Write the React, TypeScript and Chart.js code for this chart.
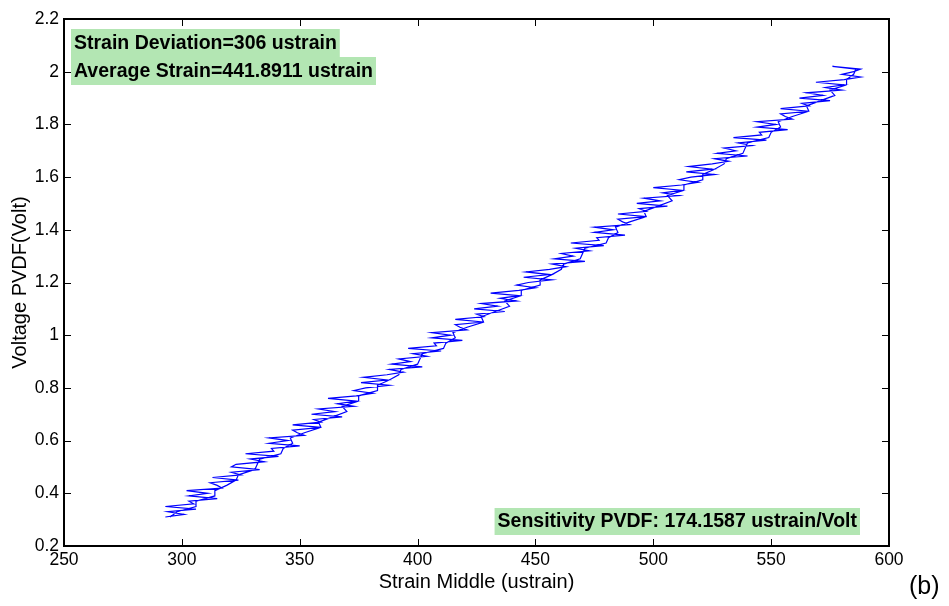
import { useEffect, useRef } from "react";
import { Chart, registerables } from "chart.js";

Chart.register(...registerables);

// ---- data ----
const xTickValues = [250, 300, 350, 400, 450, 500, 550, 600];
const yTickValues = [0.2, 0.4, 0.6, 0.8, 1.0, 1.2, 1.4, 1.6, 1.8, 2.0, 2.2];
const yTickLabels = ["0.2", "0.4", "0.6", "0.8", "1", "1.2", "1.4", "1.6", "1.8", "2", "2.2"];

// loading branch (strain in ustrain, voltage in Volt)
const strainUp = [
  293, 301, 294, 306, 293, 305, 303, 315, 303, 311,
  302, 317, 315, 312, 324, 313, 325, 321, 333, 321,
  323, 335, 329, 341, 327, 339, 338, 350, 337, 345,
  337, 352, 349, 347, 359, 347, 359, 356, 368, 355,
  365, 358, 373, 366, 374, 362, 374, 381, 373, 378,
  388, 376, 387, 377, 387, 394, 388, 402, 389, 397,
  392, 404, 398, 410, 396, 408, 407, 419, 406, 414,
  406, 421, 418, 416, 428, 416, 428, 425, 437, 424,
  434, 427, 442, 435, 443, 431, 443, 450, 442, 447,
  457, 445, 456, 446, 456, 463, 457, 471, 458, 466,
  461, 473, 467, 479, 465, 477, 476, 488, 475, 483,
  475, 490, 487, 485, 497, 485, 497, 494, 506, 493,
  503, 496, 511, 504, 512, 500, 512, 519, 511, 516,
  526, 514, 525, 515, 525, 532, 526, 540, 527, 535,
  530, 542, 536, 548, 534, 546, 545, 557, 544, 552,
  544, 559, 556, 554, 566, 554, 566, 563, 575, 562,
  572, 565, 580, 573, 581, 569, 581, 588, 580, 585,
  588, 576,
];
const voltageUp = [
  0.31, 0.32, 0.33, 0.34, 0.35, 0.36, 0.37, 0.38, 0.39, 0.40,
  0.41, 0.42, 0.43, 0.44, 0.45, 0.46, 0.47, 0.48, 0.49, 0.50,
  0.51, 0.52, 0.53, 0.54, 0.55, 0.56, 0.57, 0.58, 0.59, 0.60,
  0.61, 0.62, 0.63, 0.64, 0.65, 0.66, 0.67, 0.68, 0.69, 0.70,
  0.71, 0.72, 0.73, 0.74, 0.75, 0.76, 0.77, 0.78, 0.79, 0.80,
  0.81, 0.82, 0.83, 0.84, 0.85, 0.86, 0.87, 0.88, 0.89, 0.90,
  0.91, 0.92, 0.93, 0.94, 0.95, 0.96, 0.97, 0.98, 0.99, 1.00,
  1.01, 1.02, 1.03, 1.04, 1.05, 1.06, 1.07, 1.08, 1.09, 1.10,
  1.11, 1.12, 1.13, 1.14, 1.15, 1.16, 1.17, 1.18, 1.19, 1.20,
  1.21, 1.22, 1.23, 1.24, 1.25, 1.26, 1.27, 1.28, 1.29, 1.30,
  1.31, 1.32, 1.33, 1.34, 1.35, 1.36, 1.37, 1.38, 1.39, 1.40,
  1.41, 1.42, 1.43, 1.44, 1.45, 1.46, 1.47, 1.48, 1.49, 1.50,
  1.51, 1.52, 1.53, 1.54, 1.55, 1.56, 1.57, 1.58, 1.59, 1.60,
  1.61, 1.62, 1.63, 1.64, 1.65, 1.66, 1.67, 1.68, 1.69, 1.70,
  1.71, 1.72, 1.73, 1.74, 1.75, 1.76, 1.77, 1.78, 1.79, 1.80,
  1.81, 1.82, 1.83, 1.84, 1.85, 1.86, 1.87, 1.88, 1.89, 1.90,
  1.91, 1.92, 1.93, 1.94, 1.95, 1.96, 1.97, 1.98, 1.99, 2.00,
  2.01, 2.02,
];
// unloading branch
const strainDown = [
  586, 585, 582, 582, 575, 577, 571, 565, 566, 559,
  553, 554, 550, 549, 540, 539, 538, 531, 530, 526,
  521, 521, 513, 513, 506, 508, 502, 496, 497, 490,
  484, 485, 481, 480, 471, 470, 469, 462, 461, 457,
  452, 452, 444, 444, 437, 439, 433, 427, 428, 421,
  415, 416, 412, 411, 402, 401, 400, 393, 392, 388,
  383, 383, 375, 375, 368, 370, 364, 358, 359, 352,
  346, 347, 343, 342, 333, 332, 331, 324, 323, 319,
  314, 314, 306, 306, 298, 295,
];
const voltageDown = [
  2.01, 1.99, 1.97, 1.95, 1.93, 1.91, 1.89, 1.87, 1.85, 1.83,
  1.81, 1.79, 1.77, 1.75, 1.73, 1.71, 1.69, 1.67, 1.65, 1.63,
  1.61, 1.59, 1.57, 1.55, 1.53, 1.51, 1.49, 1.47, 1.45, 1.43,
  1.41, 1.39, 1.37, 1.35, 1.33, 1.31, 1.29, 1.27, 1.25, 1.23,
  1.21, 1.19, 1.17, 1.15, 1.13, 1.11, 1.09, 1.07, 1.05, 1.03,
  1.01, 0.99, 0.97, 0.95, 0.93, 0.91, 0.89, 0.87, 0.85, 0.83,
  0.81, 0.79, 0.77, 0.75, 0.73, 0.71, 0.69, 0.67, 0.65, 0.63,
  0.61, 0.59, 0.57, 0.55, 0.53, 0.51, 0.49, 0.47, 0.45, 0.43,
  0.41, 0.39, 0.37, 0.35, 0.33, 0.31,
];

const annotationTopLines = ["Strain Deviation=306 ustrain", "Average Strain=441.8911 ustrain"];
const annotationBottom = "Sensitivity PVDF: 174.1587 ustrain/Volt";
const panelLabel = "(b)";
const xTitle = "Strain Middle (ustrain)";
const yTitle = "Voltage PVDF(Volt)";

const FONT = "'Liberation Sans', Arial, Helvetica, sans-serif";
const GREEN = "rgb(179,230,179)";

const framePlugin = {
  id: "frame",
  afterDraw(chart: any) {
    const ctx = chart.ctx as CanvasRenderingContext2D;
    const { left, right, top, bottom } = chart.chartArea;
    const xs = chart.scales.x;
    const ys = chart.scales.y;
    ctx.save();
    ctx.strokeStyle = "#000";
    ctx.lineWidth = 1;
    const tl = 7;
    ctx.beginPath();
    for (const v of xTickValues) {
      const px = Math.round(xs.getPixelForValue(v)) + 0.5;
      ctx.moveTo(px, bottom);
      ctx.lineTo(px, bottom - tl);
      ctx.moveTo(px, top);
      ctx.lineTo(px, top + tl);
    }
    for (const v of yTickValues) {
      const py = Math.round(ys.getPixelForValue(v)) + 0.5;
      ctx.moveTo(left, py);
      ctx.lineTo(left + tl, py);
      ctx.moveTo(right, py);
      ctx.lineTo(right - tl, py);
    }
    ctx.stroke();
    ctx.lineWidth = 2;
    ctx.strokeRect(left, top, right - left, bottom - top);

    // annotations
    ctx.font = `bold 19.5px ${FONT}`;
    ctx.textBaseline = "middle";
    ctx.textAlign = "left";
    const bx = left + 7;
    let by = top + 10;
    for (const line of annotationTopLines) {
      const w = ctx.measureText(line).width;
      ctx.fillStyle = GREEN;
      ctx.fillRect(bx, by, w + 6, 28);
      ctx.fillStyle = "#000";
      ctx.fillText(line, bx + 3, by + 15);
      by += 28;
    }
    const w2 = ctx.measureText(annotationBottom).width;
    const rx = right - 29;
    const ry = bottom - 11 - 27;
    ctx.fillStyle = GREEN;
    ctx.fillRect(rx - w2 - 6, ry, w2 + 6, 27);
    ctx.fillStyle = "#000";
    ctx.fillText(annotationBottom, rx - w2 - 3, ry + 14);

    ctx.font = `25px ${FONT}`;
    ctx.fillText(panelLabel, 909, 587);
    ctx.restore();
  },
};

export default function App() {
  const ref = useRef<HTMLCanvasElement>(null);
  useEffect(() => {
    const strain = [...strainUp, ...strainDown];
    const voltage = [...voltageUp, ...voltageDown];
    const points = strain.map((s, i) => ({ x: s, y: voltage[i] }));
    const tickFont = { family: FONT, size: 17.5 };
    const titleFont = { family: FONT, size: 20 };
    const chart = new Chart(ref.current as HTMLCanvasElement, {
      type: "line",
      data: {
        datasets: [
          {
            data: points,
            borderColor: "#0000ff",
            borderWidth: 1.2,
            pointRadius: 0,
            fill: false,
            tension: 0,
          },
        ],
      },
      options: {
        responsive: false,
        animation: false,
        layout: { padding: { top: 19, right: 60, left: 0, bottom: 0 } },
        plugins: { legend: { display: false }, tooltip: { enabled: false } },
        scales: {
          x: {
            type: "linear",
            min: 250,
            max: 600,
            afterBuildTicks: (s: any) => {
              s.ticks = xTickValues.map((v) => ({ value: v }));
            },
            afterFit: (s: any) => {
              s.height = 60;
            },
            grid: { display: false, drawTicks: false },
            border: { display: false },
            ticks: { color: "#000", font: tickFont, padding: 4, maxRotation: 0, autoSkip: false },
            title: { display: true, text: xTitle, color: "#000", font: titleFont, padding: { top: 0, bottom: 12 } },
          },
          y: {
            type: "linear",
            min: 0.2,
            max: 2.2,
            afterBuildTicks: (s: any) => {
              s.ticks = yTickValues.map((v) => ({ value: v }));
            },
            afterFit: (s: any) => {
              s.width = 64;
            },
            grid: { display: false, drawTicks: false },
            border: { display: false },
            ticks: {
              color: "#000",
              font: tickFont,
              padding: 5,
              autoSkip: false,
              callback: (_v: any, i: number) => yTickLabels[i],
            },
            title: { display: true, text: yTitle, color: "#000", font: titleFont, padding: { top: 8, bottom: 0 } },
          },
        },
      },
      plugins: [framePlugin],
    } as any);
    return () => chart.destroy();
  }, []);
  return (
    <div style={{ position: "fixed", left: 0, top: 0, width: 949, height: 606, background: "#fff" }}>
      <canvas ref={ref} width={949} height={606} style={{ display: "block" }} />
    </div>
  );
}
